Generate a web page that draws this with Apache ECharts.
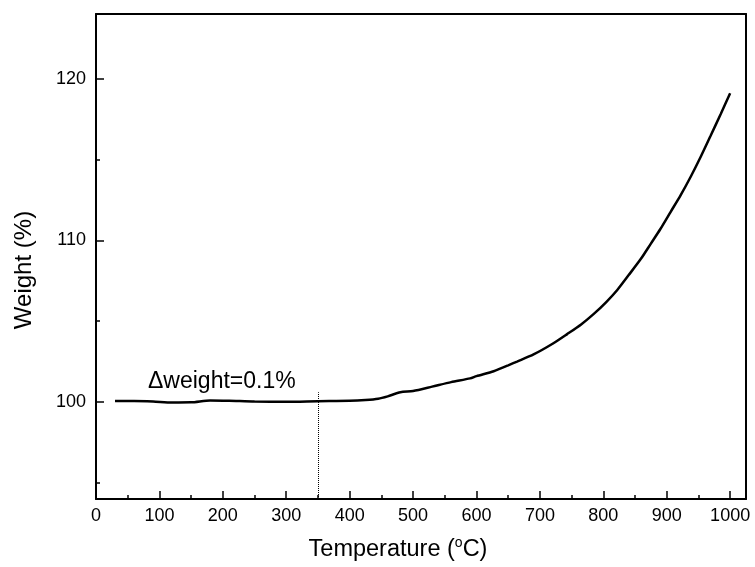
<!DOCTYPE html>
<html>
<head>
<meta charset="utf-8">
<script src="https://cdn.jsdelivr.net/npm/echarts@6/dist/echarts.min.js"></script>
<style>
  html, body { margin: 0; padding: 0; background: #fff; }
  #chart { width: 755px; height: 567px; }
</style>
</head>
<body>
<div id="chart"></div>
<script>
// temperature (°C) and weight (%)
var temps = [30, 60, 90, 120, 150, 180, 210, 250, 300, 350, 400, 425, 445, 460, 480, 500, 530, 560, 590, 600,
             627, 650, 664, 690, 720, 743, 765, 785, 805, 822, 840, 859, 875, 890, 906, 922, 938, 954, 969, 985, 1000];
var weights = [100.06, 100.06, 100.03, 99.97, 99.98, 100.1, 100.08, 100.03, 100.02, 100.05, 100.07, 100.12, 100.2, 100.35, 100.6, 100.68, 100.95, 101.23, 101.46, 101.6,
               101.9, 102.27, 102.5, 102.94, 103.6, 104.2, 104.8, 105.45, 106.2, 106.93, 107.85, 108.84, 109.8, 110.7, 111.75, 112.8, 113.95, 115.2, 116.45, 117.8, 119.1];

var xMajor = [0, 100, 200, 300, 400, 500, 600, 700, 800, 900, 1000];
var xMinor = [50, 150, 250, 350, 450, 550, 650, 750, 850, 950];
var yMajor = [100, 110, 120];
var yMinor = [95, 105, 115];

var markTemp = 350;
var markTop = 100.6;
var noteText = 'Δweight=0.1%';

var xMin = 0, xMax = 1025, yMin = 94, yMax = 124;
var font = '"Liberation Sans", Arial, sans-serif';

var data = [];
for (var i = 0; i < temps.length; i++) {
    data.push([temps[i], weights[i]]);
}

function axisBase(pos, min, max) {
    return {
        type: 'value', position: pos, min: min, max: max,
        splitLine: { show: false },
        axisLine: { show: false, onZero: false, lineStyle: { color: '#000', width: 2 } },
        axisTick: { show: false },
        axisLabel: { show: false }
    };
}

// extra axis that only draws inward ticks
function tickAxis(pos, min, max, values, len) {
    var a = axisBase(pos, min, max);
    a.axisTick = { show: true, inside: true, length: len, customValues: values, lineStyle: { color: '#000', width: 1.5 } };
    return a;
}

// frame lines + labels
var xMain = axisBase('bottom', xMin, xMax);
xMain.axisLine.show = true;
xMain.axisLabel = { show: true, customValues: xMajor, margin: 8, color: '#000', fontSize: 18, fontFamily: font,
    formatter: function(v) { return String(v); } };
var xTop = axisBase('top', xMin, xMax);
xTop.axisLine.show = true;

var yMain = axisBase('left', yMin, yMax);
yMain.axisLine.show = true;
yMain.axisLabel = { show: true, customValues: yMajor, margin: 10, color: '#000', fontSize: 18, fontFamily: font,
    formatter: function(v) { return String(v); } };
var yRight = axisBase('right', yMin, yMax);
yRight.axisLine.show = true;

var option = {
    animation: false,
    backgroundColor: '#fff',
    grid: { left: 96, right: 9, top: 14, bottom: 68, containLabel: false },
    xAxis: [xMain, tickAxis('bottom', xMin, xMax, xMajor, 8), tickAxis('bottom', xMin, xMax, xMinor, 4), xTop],
    yAxis: [yMain, tickAxis('left', yMin, yMax, yMajor, 8), tickAxis('left', yMin, yMax, yMinor, 4), yRight],
    series: [{
        type: 'line',
        data: data,
        xAxisIndex: 0,
        yAxisIndex: 0,
        showSymbol: false,
        smooth: 0.25,
        lineStyle: { color: '#000', width: 2.5 },
        markLine: {
            silent: true,
            symbol: 'none',
            label: { show: false },
            lineStyle: { color: '#000', width: 1, type: 'dotted' },
            data: [[{ coord: [markTemp, yMin] }, { coord: [markTemp, markTop] }]]
        }
    }],
    graphic: [
        {
            type: 'text', x: 148, y: 382,
            style: { text: noteText, fill: '#000', font: '23px ' + font, textVerticalAlign: 'middle' }
        },
        {
            type: 'text', x: 398, y: 550,
            style: {
                text: 'Temperature ({s|o}C)',
                fill: '#000', font: '23.5px ' + font, lineHeight: 28,
                textAlign: 'center', textVerticalAlign: 'middle',
                rich: { s: { fontSize: 14, fontFamily: font, lineHeight: 12, verticalAlign: 'top' } }
            }
        },
        {
            type: 'text', x: 24, y: 270, rotation: Math.PI / 2,
            style: { text: 'Weight (%)', fill: '#000', font: '24px ' + font, textAlign: 'center', textVerticalAlign: 'middle' }
        }
    ]
};

var myChart = echarts.init(document.getElementById('chart'));
myChart.setOption(option);
</script>
</body>
</html>
